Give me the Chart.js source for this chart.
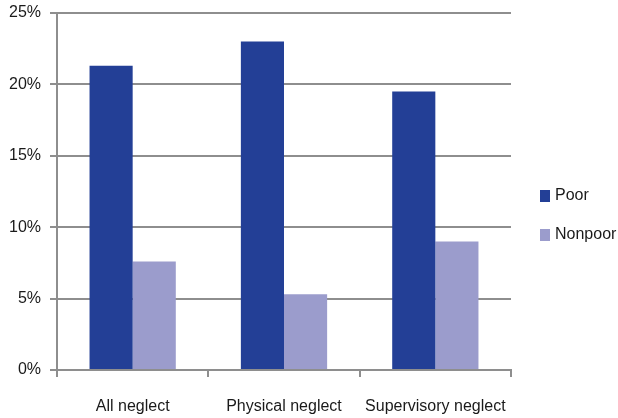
<!DOCTYPE html>
<html>
<head>
<meta charset="utf-8">
<script src="https://cdn.jsdelivr.net/npm/chart.js@4.4.0/dist/chart.umd.min.js"></script>
<style>
  html, body { margin: 0; padding: 0; background: #fff; }
  #wrap { width: 618px; height: 418px; }
</style>
</head>
<body>
<div id="wrap"><canvas id="neglectChart" width="618" height="418"></canvas></div>
<script>
const categories = ['All neglect', 'Physical neglect', 'Supervisory neglect'];
const poorValues = [21.3, 23.0, 19.5];
const nonpoorValues = [7.6, 5.3, 9.0];
const yTicks = [0, 5, 10, 15, 20, 25];

const fontFamily = '"Liberation Sans", Arial, sans-serif';
const fontSize = 16;
const gridGray = '#8e8e8e';

// legend drawn on the right, from the dataset labels and colours
const sideLegend = {
    id: 'sideLegend',
    afterDraw(chart) {
        const ctx = chart.ctx;
        const items = chart.data.datasets;
        ctx.save();
        ctx.font = fontSize + 'px ' + fontFamily;
        ctx.textBaseline = 'middle';
        ctx.textAlign = 'left';
        items.forEach(function(ds, i) {
            const y = 196 + i * 39;
            ctx.fillStyle = ds.backgroundColor;
            ctx.fillRect(540, y - 6, 10, 12);
            ctx.fillStyle = '#1a1a1a';
            ctx.fillText(ds.label, 555, y);
        });
        ctx.restore();
    }
};

new Chart(document.getElementById('neglectChart'), {
    type: 'bar',
    data: {
        labels: categories,
        datasets: [{
            label: 'Poor',
            data: poorValues,
            backgroundColor: '#233f96',
            borderWidth: 0,
            categoryPercentage: 0.57,
            barPercentage: 1.0
        }, {
            label: 'Nonpoor',
            data: nonpoorValues,
            backgroundColor: '#9b9ccc',
            borderWidth: 0,
            categoryPercentage: 0.57,
            barPercentage: 1.0
        }]
    },
    options: {
        responsive: false,
        animation: false,
        layout: {
            padding: { top: 0, right: 107, bottom: 0, left: 0 }
        },
        plugins: {
            legend: { display: false },
            tooltip: { enabled: false }
        },
        scales: {
            y: {
                min: 0,
                max: 25,
                afterBuildTicks: function(scale) {
                    scale.ticks = yTicks.map(function(v) { return { value: v }; });
                },
                afterFit: function(scale) {
                    scale.width = 57;
                    scale.paddingTop = 13;
                },
                ticks: {
                    color: '#1a1a1a',
                    padding: 9,
                    font: { family: fontFamily, size: fontSize },
                    callback: function(v) { return v + '%'; }
                },
                grid: {
                    color: gridGray,
                    lineWidth: 2,
                    tickLength: 7
                },
                border: {
                    color: gridGray,
                    width: 2
                }
            },
            x: {
                afterFit: function(scale) {
                    scale.height = 48;
                },
                ticks: {
                    color: '#1a1a1a',
                    padding: 20,
                    maxRotation: 0,
                    minRotation: 0,
                    autoSkip: false,
                    font: { family: fontFamily, size: fontSize }
                },
                grid: {
                    color: gridGray,
                    lineWidth: 2,
                    drawOnChartArea: false,
                    tickLength: 7,
                    offset: true
                },
                border: {
                    color: gridGray,
                    width: 2
                }
            }
        }
    },
    plugins: [sideLegend]
});
</script>
</body>
</html>
